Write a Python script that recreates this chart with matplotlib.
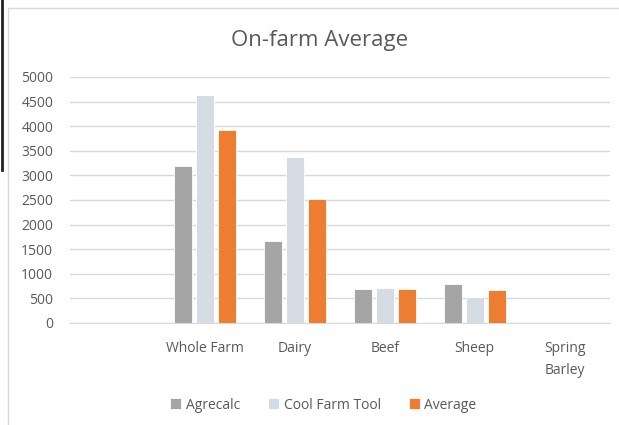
import numpy as np
import matplotlib.pyplot as plt
from matplotlib.patches import Rectangle
from matplotlib.lines import Line2D

# data
categories = ['', 'Whole Farm', 'Dairy', 'Beef', 'Sheep', 'Spring\nBarley']
agrecalc = [0, 3200, 1660, 690, 800, 0]
cool_farm = [0, 4630, 3380, 710, 525, 0]
average = [0, 3915, 2520, 700, 662, 0]

series = [('Agrecalc', agrecalc, '#A5A5A5'),
          ('Cool Farm Tool', cool_farm, '#D6DCE4'),
          ('Average', average, '#ED7D31')]

plt.rcParams['font.family'] = ['Open Sans', 'DejaVu Sans']

fig = plt.figure(figsize=(6.19, 4.25), dpi=100)
ax = fig.add_axes([0.113, 0.24, 0.872, 0.579])

x = np.arange(len(categories))
w = 0.2
step = 0.245
for i, (name, vals, col) in enumerate(series):
    ax.bar(x + (i - 1) * step, vals, width=w, color=col, label=name,
           edgecolor='white', linewidth=0.6, zorder=3)

ax.set_xlim(-0.5, len(categories) - 0.5)
ax.set_ylim(0, 5000)
ax.set_yticks(np.arange(0, 5001, 500))
ax.yaxis.grid(True, color='#D9D9D9', linewidth=1)
ax.set_axisbelow(True)
for s in ['top', 'right', 'left']:
    ax.spines[s].set_visible(False)
ax.spines['bottom'].set_color('#D9D9D9')
ax.set_xticks(x)
ax.set_xticklabels(categories, fontsize=10, color='#595959', linespacing=1.6)
ax.tick_params(axis='x', length=0, pad=13)
ax.tick_params(axis='y', length=0, pad=12, labelsize=10, labelcolor='#595959')

fig.text(0.517, 0.905, 'On-farm Average', ha='center', va='center',
         fontsize=16, color='#595959')

ax.legend(loc='center', bbox_to_anchor=(0.522, 0.047), bbox_transform=fig.transFigure,
          ncol=3, frameon=False, fontsize=10, labelcolor='#595959',
          handlelength=0.8, handleheight=0.8, handletextpad=0.35, columnspacing=2.0)

# chart border and the cut-off dark line on the left
fig.patches.append(Rectangle((8 / 619, -0.01), 1.0, 1 - 8 / 425 + 0.01,
                             transform=fig.transFigure, fill=False,
                             edgecolor='#D9D9D9', linewidth=1))
fig.lines.append(Line2D([1.5 / 619, 1.5 / 619], [1.0, 1 - 170 / 425],
                        transform=fig.transFigure, color='#222222', linewidth=2))

fig.savefig('out.png', dpi=100, facecolor='white')
